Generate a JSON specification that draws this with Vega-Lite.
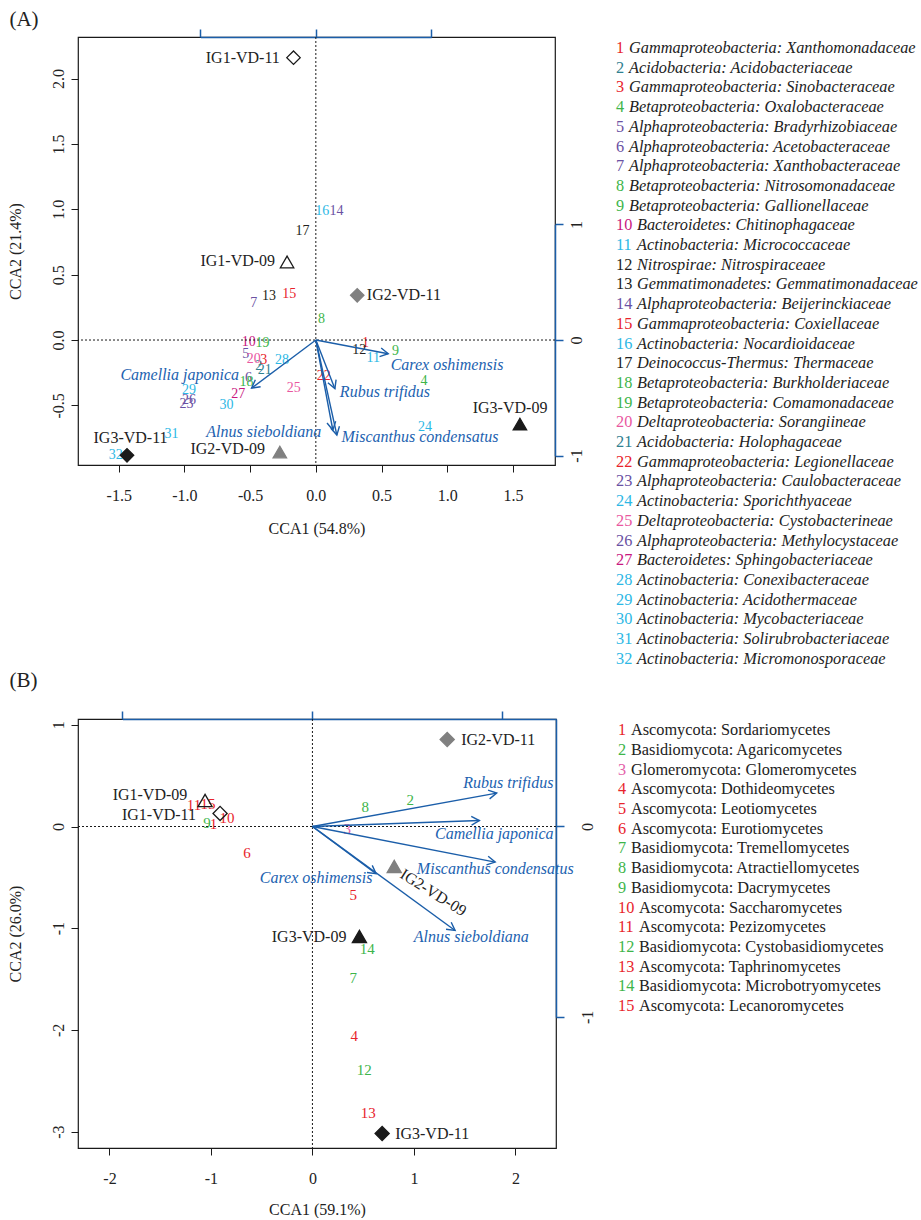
{
  "$schema": "https://vega.github.io/schema/vega-lite/v6.json",
  "background": "white",
  "padding": {"left": 6, "top": 8, "right": 0, "bottom": 0},
  "config": {
    "font": "Liberation Serif",
    "view": {"stroke": "#1a1a1a", "strokeWidth": 1.2},
    "axis": {"grid": false, "domain": false, "tickColor": "#1a1a1a", "tickSize": 7, "tickWidth": 1, "labelFontSize": 16, "titleFontSize": 16, "labelColor": "#222222", "titleColor": "#222222", "titleFontWeight": "normal", "labelFlush": false, "labelOverlap": false, "labelBound": false, "labelFont": "Liberation Serif", "titleFont": "Liberation Serif"},
    "title": {"font": "Liberation Serif", "fontSize": 21, "fontWeight": "normal", "anchor": "start", "color": "#222222"},
    "text": {"font": "Liberation Serif"}
  },
  "datasets": {
    "bacteria": [
      {"n":1,"cls":"Gammaproteobacteria","taxon":"Gammaproteobacteria: Xanthomonadaceae","x":0.378,"y":-0.02},
      {"n":2,"cls":"Acidobacteria","taxon":"Acidobacteria: Acidobacteriaceae","x":-0.434,"y":-0.199},
      {"n":3,"cls":"Gammaproteobacteria","taxon":"Gammaproteobacteria: Sinobacteraceae","x":-0.396,"y":-0.153},
      {"n":4,"cls":"Betaproteobacteria","taxon":"Betaproteobacteria: Oxalobacteraceae","x":0.823,"y":-0.316},
      {"n":5,"cls":"Alphaproteobacteria","taxon":"Alphaproteobacteria: Bradyrhizobiaceae","x":-0.533,"y":-0.107},
      {"n":6,"cls":"Alphaproteobacteria","taxon":"Alphaproteobacteria: Acetobacteraceae","x":-0.512,"y":-0.29},
      {"n":7,"cls":"Alphaproteobacteria","taxon":"Alphaproteobacteria: Xanthobacteraceae","x":-0.472,"y":0.283},
      {"n":8,"cls":"Betaproteobacteria","taxon":"Betaproteobacteria: Nitrosomonadaceae","x":0.043,"y":0.163},
      {"n":9,"cls":"Betaproteobacteria","taxon":"Betaproteobacteria: Gallionellaceae","x":0.607,"y":-0.087},
      {"n":10,"cls":"Bacteroidetes","taxon":"Bacteroidetes: Chitinophagaceae","x":-0.51,"y":-0.018},
      {"n":11,"cls":"Actinobacteria","taxon":"Actinobacteria: Micrococcaceae","x":0.437,"y":-0.138},
      {"n":12,"cls":"Nitrospirae","taxon":"Nitrospirae: Nitrospiraceaee","x":0.33,"y":-0.074},
      {"n":13,"cls":"Gemmatimonadetes","taxon":"Gemmatimonadetes: Gemmatimonadaceae","x":-0.356,"y":0.334},
      {"n":14,"cls":"Alphaproteobacteria","taxon":"Alphaproteobacteria: Beijerinckiaceae","x":0.158,"y":0.985},
      {"n":15,"cls":"Gammaproteobacteria","taxon":"Gammaproteobacteria: Coxiellaceae","x":-0.203,"y":0.352},
      {"n":16,"cls":"Actinobacteria","taxon":"Actinobacteria: Nocardioidaceae","x":0.048,"y":0.985},
      {"n":17,"cls":"Deinococcus-Thermus","taxon":"Deinococcus-Thermus: Thermaceae","x":-0.101,"y":0.832},
      {"n":18,"cls":"Betaproteobacteria","taxon":"Betaproteobacteria: Burkholderiaceae","x":-0.528,"y":-0.324},
      {"n":19,"cls":"Betaproteobacteria","taxon":"Betaproteobacteria: Comamonadaceae","x":-0.406,"y":-0.023},
      {"n":20,"cls":"Deltaproteobacteria","taxon":"Deltaproteobacteria: Sorangiineae","x":-0.472,"y":-0.145},
      {"n":21,"cls":"Acidobacteria","taxon":"Acidobacteria: Holophagaceae","x":-0.388,"y":-0.23},
      {"n":22,"cls":"Gammaproteobacteria","taxon":"Gammaproteobacteria: Legionellaceae","x":0.061,"y":-0.278},
      {"n":23,"cls":"Alphaproteobacteria","taxon":"Alphaproteobacteria: Caulobacteraceae","x":-0.985,"y":-0.49},
      {"n":24,"cls":"Actinobacteria","taxon":"Actinobacteria: Sporichthyaceae","x":0.83,"y":-0.668},
      {"n":25,"cls":"Deltaproteobacteria","taxon":"Deltaproteobacteria: Cystobacterineae","x":-0.168,"y":-0.367},
      {"n":26,"cls":"Alphaproteobacteria","taxon":"Alphaproteobacteria: Methylocystaceae","x":-0.965,"y":-0.457},
      {"n":27,"cls":"Bacteroidetes","taxon":"Bacteroidetes: Sphingobacteriaceae","x":-0.59,"y":-0.413},
      {"n":28,"cls":"Actinobacteria","taxon":"Actinobacteria: Conexibacteraceae","x":-0.257,"y":-0.151},
      {"n":29,"cls":"Actinobacteria","taxon":"Actinobacteria: Acidothermaceae","x":-0.965,"y":-0.38},
      {"n":30,"cls":"Actinobacteria","taxon":"Actinobacteria: Mycobacteriaceae","x":-0.68,"y":-0.495},
      {"n":31,"cls":"Actinobacteria","taxon":"Actinobacteria: Solirubrobacteriaceae","x":-1.099,"y":-0.719},
      {"n":32,"cls":"Actinobacteria","taxon":"Actinobacteria: Micromonosporaceae","x":-1.523,"y":-0.882}
    ],
    "fungi": [
      {"n":1,"cls":"Ascomycota","taxon":"Ascomycota: Sordariomycetes","x":-0.974,"y":0.02},
      {"n":2,"cls":"Basidiomycota","taxon":"Basidiomycota: Agaricomycetes","x":0.964,"y":0.265},
      {"n":3,"cls":"Glomeromycota","taxon":"Glomeromycota: Glomeromycetes","x":0.342,"y":-0.02},
      {"n":4,"cls":"Ascomycota","taxon":"Ascomycota: Dothideomycetes","x":0.411,"y":-2.055},
      {"n":5,"cls":"Ascomycota","taxon":"Ascomycota: Leotiomycetes","x":0.401,"y":-0.669},
      {"n":6,"cls":"Ascomycota","taxon":"Ascomycota: Eurotiomycetes","x":-0.644,"y":-0.256},
      {"n":7,"cls":"Basidiomycota","taxon":"Basidiomycota: Tremellomycetes","x":0.401,"y":-1.485},
      {"n":8,"cls":"Basidiomycota","taxon":"Basidiomycota: Atractiellomycetes","x":0.52,"y":0.187},
      {"n":9,"cls":"Basidiomycota","taxon":"Basidiomycota: Dacrymycetes","x":-1.039,"y":0.039},
      {"n":10,"cls":"Ascomycota","taxon":"Ascomycota: Saccharomycetes","x":-0.841,"y":0.088},
      {"n":11,"cls":"Ascomycota","taxon":"Ascomycota: Pezizomycetes","x":-1.167,"y":0.216},
      {"n":12,"cls":"Basidiomycota","taxon":"Basidiomycota: Cystobasidiomycetes","x":0.51,"y":-2.399},
      {"n":13,"cls":"Ascomycota","taxon":"Ascomycota: Taphrinomycetes","x":0.549,"y":-2.812},
      {"n":14,"cls":"Basidiomycota","taxon":"Basidiomycota: Microbotryomycetes","x":0.539,"y":-1.2},
      {"n":15,"cls":"Ascomycota","taxon":"Ascomycota: Lecanoromycetes","x":-1.029,"y":0.226}
    ],
    "sitesA": [
      {"site":"IG1-VD-11","ig":"IG1","yr":"11","x":-0.17,"y":2.16,"lx":-0.556,"ly":2.158},
      {"site":"IG1-VD-09","ig":"IG1","yr":"09","x":-0.219,"y":0.597,"lx":-0.594,"ly":0.604},
      {"site":"IG2-VD-11","ig":"IG2","yr":"11","x":0.315,"y":0.342,"lx":0.67,"ly":0.344},
      {"site":"IG2-VD-09","ig":"IG2","yr":"09","x":-0.274,"y":-0.857,"lx":-0.67,"ly":-0.834},
      {"site":"IG3-VD-09","ig":"IG3","yr":"09","x":1.553,"y":-0.643,"lx":1.478,"ly":-0.52},
      {"site":"IG3-VD-11","ig":"IG3","yr":"11","x":-1.437,"y":-0.882,"lx":-1.41,"ly":-0.75}
    ],
    "sitesB": [
      {"site":"IG2-VD-11","ig":"IG2","yr":"11","x":1.328,"y":0.855,"lx":1.831,"ly":0.855},
      {"site":"IG1-VD-09","ig":"IG1","yr":"09","x":-1.058,"y":0.256,"lx":-1.601,"ly":0.305},
      {"site":"IG1-VD-11","ig":"IG1","yr":"11","x":-0.91,"y":0.128,"lx":-1.512,"ly":0.118},
      {"site":"IG2-VD-09","ig":"IG2","yr":"09","x":0.806,"y":-0.393,"lx":1.19,"ly":-0.65},
      {"site":"IG3-VD-09","ig":"IG3","yr":"09","x":0.463,"y":-1.081,"lx":-0.033,"ly":-1.082},
      {"site":"IG3-VD-11","ig":"IG3","yr":"11","x":0.687,"y":-3.019,"lx":1.18,"ly":-3.028}
    ],
    "arrowsA": [
      {"plant":"Carex oshimensis","x":0.627,"y":-0.119,"lx":0.998,"ly":-0.191},
      {"plant":"Camellia japonica","x":-0.557,"y":-0.416,"lx":-1.036,"ly":-0.268},
      {"plant":"Rubus trifidus","x":0.165,"y":-0.421,"lx":0.526,"ly":-0.398},
      {"plant":"Alnus sieboldiana","x":0.147,"y":-0.779,"lx":-0.396,"ly":-0.704},
      {"plant":"Miscanthus condensatus","x":0.182,"y":-0.823,"lx":0.792,"ly":-0.742}
    ],
    "arrowsB": [
      {"plant":"Rubus trifidus","x":0.97,"y":0.175,"lx":1.93,"ly":0.423},
      {"plant":"Camellia japonica","x":0.879,"y":0.031,"lx":1.792,"ly":-0.069},
      {"plant":"Miscanthus condensatus","x":0.962,"y":-0.187,"lx":1.802,"ly":-0.413},
      {"plant":"Carex oshimensis","x":0.335,"y":-0.248,"lx":0.036,"ly":-0.511},
      {"plant":"Alnus sieboldiana","x":0.751,"y":-0.546,"lx":1.565,"ly":-1.091}
    ]
  },
  "spacing": 2,
  "vconcat": [
    {
      "title": {"text": "(A)", "offset": 0, "dx": 3, "dy": 2},
      "spacing": 31,
      "hconcat": [
        {
          "width": 477,
          "height": 428,
          "layer": [
            {
              "layer": [
                {
                  "data": {"name": "bacteria"},
                  "mark": {"type": "text", "fontSize": 14, "align": "center", "baseline": "middle"},
                  "encoding": {
                    "x": {"field": "x", "type": "quantitative", "scale": {"domain": [-1.81, 1.82], "nice": false, "zero": false},
                      "axis": {"orient": "bottom", "values": [-1.5, -1, -0.5, 0, 0.5, 1, 1.5], "labelExpr": "(datum.value < 0 ? '-' : '') + format(abs(datum.value), '.1f')", "title": "CCA1 (54.8%)", "labelPadding": 15, "titlePadding": 17}},
                    "y": {"field": "y", "type": "quantitative", "scale": {"domain": [-0.956, 2.318], "nice": false, "zero": false},
                      "axis": {"orient": "left", "values": [-0.5, 0, 0.5, 1, 1.5, 2], "labelExpr": "(datum.value < 0 ? '-' : '') + format(abs(datum.value), '.1f')", "labelAngle": -90, "labelAlign": "center", "labelBaseline": "bottom", "labelPadding": 5, "title": "CCA2 (21.4%)", "titlePadding": 27}},
                    "text": {"field": "n", "type": "nominal"},
                    "color": {"field": "cls", "type": "nominal", "legend": null,
                      "scale": {"domain": ["Gammaproteobacteria","Acidobacteria","Betaproteobacteria","Alphaproteobacteria","Bacteroidetes","Actinobacteria","Nitrospirae","Gemmatimonadetes","Deinococcus-Thermus","Deltaproteobacteria","Ascomycota","Basidiomycota","Glomeromycota"],
                                "range": ["#E8232B","#2F8190","#3DB54A","#6A51A3","#C8187F","#2DB8E5","#231F20","#231F20","#231F20","#E9579F","#E8232B","#3DB54A","#E463AA"]}}
                  }
                },
                {
                  "data": {"values": [{}]},
                  "mark": {"type": "rule", "strokeDash": [2, 2], "color": "#1a1a1a", "strokeWidth": 1},
                  "encoding": {"x": {"datum": 0, "type": "quantitative"}}
                },
                {
                  "data": {"values": [{}]},
                  "mark": {"type": "rule", "strokeDash": [2, 2], "color": "#1a1a1a", "strokeWidth": 1},
                  "encoding": {"y": {"datum": 0, "type": "quantitative"}}
                },
                {
                  "data": {"name": "sitesA"},
                  "mark": {"type": "point", "filled": true, "opacity": 1, "size": 180, "strokeWidth": 1.3},
                  "encoding": {
                    "x": {"field": "x", "type": "quantitative"},
                    "y": {"field": "y", "type": "quantitative"},
                    "shape": {"field": "yr", "type": "nominal", "legend": null, "scale": {"domain": ["09", "11"], "range": ["triangle-up", "diamond"]}},
                    "fill": {"field": "ig", "type": "nominal", "legend": null, "scale": {"domain": ["IG1", "IG2", "IG3"], "range": ["rgba(0,0,0,0)", "#808080", "#1a1a1a"]}},
                    "stroke": {"field": "ig", "type": "nominal", "legend": null, "scale": {"domain": ["IG1", "IG2", "IG3"], "range": ["#1a1a1a", "#808080", "#1a1a1a"]}}
                  }
                },
                {
                  "data": {"name": "sitesA"},
                  "mark": {"type": "text", "fontSize": 16, "align": "center", "baseline": "middle", "color": "#222222"},
                  "encoding": {
                    "x": {"field": "lx", "type": "quantitative"},
                    "y": {"field": "ly", "type": "quantitative"},
                    "text": {"field": "site", "type": "nominal"}
                  }
                },
                {
                  "data": {"name": "arrowsA"},
                  "mark": {"type": "text", "fontSize": 16, "fontStyle": "italic", "align": "center", "baseline": "middle", "color": "#2262B0"},
                  "encoding": {
                    "x": {"field": "lx", "type": "quantitative"},
                    "y": {"field": "ly", "type": "quantitative"},
                    "text": {"field": "plant", "type": "nominal"}
                  }
                }
              ]
            },
            {
              "data": {"name": "arrowsA"},
              "layer": [
                {
                  "mark": {"type": "rule", "color": "#1B5EA9", "strokeWidth": 1.4},
                  "encoding": {
                    "x": {"field": "x", "type": "quantitative", "scale": {"domain": [-2.061, 2.072], "nice": false, "zero": false},
                      "axis": {"orient": "top", "values": [-1, 0, 1], "labels": false, "title": null, "domain": true, "domainColor": "#1B5EA9", "domainWidth": 1.5, "domainDash": [0, 122.45, 230.8, 1000], "tickColor": "#1B5EA9", "tickWidth": 1.5, "tickSize": 8}},
                    "x2": {"datum": 0},
                    "y": {"field": "y", "type": "quantitative", "scale": {"domain": [-1.082, 2.623], "nice": false, "zero": false},
                      "axis": {"orient": "right", "values": [-1, 0, 1], "labelExpr": "datum.value < 0 ? '-' + abs(datum.value) : '' + datum.value", "labelAngle": -90, "labelAlign": "center", "labelBaseline": "top", "labelPadding": 5, "title": null, "domain": true, "domainColor": "#1B5EA9", "domainWidth": 1.5, "domainDash": [0, 9.5, 231, 1000], "tickColor": "#1B5EA9", "tickWidth": 1.5, "tickSize": 8}},
                    "y2": {"datum": 0}
                  }
                },
                {
                  "transform": [{"calculate": "-atan2(datum.y, datum.x) * 180 / PI", "as": "ang"}],
                  "mark": {"type": "point", "shape": "M-1,-0.55L0,0L-1,0.55", "filled": false, "size": 256, "stroke": "#1B5EA9", "strokeWidth": 1.4, "opacity": 1},
                  "encoding": {
                    "x": {"field": "x", "type": "quantitative"},
                    "y": {"field": "y", "type": "quantitative"},
                    "angle": {"field": "ang", "type": "quantitative", "scale": null}
                  }
                }
              ]
            }
          ],
          "resolve": {"scale": {"x": "independent", "y": "independent"}, "axis": {"x": "independent", "y": "independent"}}
        },
        {
          "width": 300,
          "height": 621.7,
          "view": {"stroke": null},
          "data": {"name": "bacteria"},
          "encoding": {"y": {"field": "n", "type": "quantitative", "scale": {"domain": [0.4416, 32], "reverse": true, "nice": false, "zero": false}, "axis": null}},
          "layer": [
            {
              "mark": {"type": "text", "align": "left", "baseline": "middle", "fontSize": 16.3},
              "encoding": {
                "x": {"value": 0},
                "text": {"field": "n", "type": "nominal"},
                "color": {"field": "cls", "type": "nominal", "legend": null,
                  "scale": {"domain": ["Gammaproteobacteria","Acidobacteria","Betaproteobacteria","Alphaproteobacteria","Bacteroidetes","Actinobacteria","Nitrospirae","Gemmatimonadetes","Deinococcus-Thermus","Deltaproteobacteria","Ascomycota","Basidiomycota","Glomeromycota"],
                            "range": ["#E8232B","#2F8190","#3DB54A","#6A51A3","#C8187F","#2DB8E5","#231F20","#231F20","#231F20","#E9579F","#E8232B","#3DB54A","#E463AA"]}}
              }
            },
            {
              "transform": [{"filter": "datum.n < 10"}],
              "mark": {"type": "text", "align": "left", "baseline": "middle", "fontSize": 16.3, "fontStyle": "italic", "dx": 13, "color": "#222222"},
              "encoding": {"x": {"value": 0}, "text": {"field": "taxon", "type": "nominal"}}
            },
            {
              "transform": [{"filter": "datum.n >= 10"}],
              "mark": {"type": "text", "align": "left", "baseline": "middle", "fontSize": 16.3, "fontStyle": "italic", "dx": 21, "color": "#222222"},
              "encoding": {"x": {"value": 0}, "text": {"field": "taxon", "type": "nominal"}}
            }
          ]
        }
      ]
    },
    {
      "title": {"text": "(B)", "offset": 19, "dx": 3},
      "spacing": 22,
      "hconcat": [
        {
          "width": 478,
          "height": 429,
          "layer": [
            {
              "layer": [
                {
                  "data": {"name": "fungi"},
                  "mark": {"type": "text", "fontSize": 15, "align": "center", "baseline": "middle"},
                  "encoding": {
                    "x": {"field": "x", "type": "quantitative", "scale": {"domain": [-2.31, 2.4], "nice": false, "zero": false},
                      "axis": {"orient": "bottom", "values": [-2, -1, 0, 1, 2], "labelExpr": "(datum.value < 0 ? '-' : '') + abs(datum.value)", "title": "CCA1 (59.1%)", "labelPadding": 15, "titlePadding": 15}},
                    "y": {"field": "y", "type": "quantitative", "scale": {"domain": [-3.161, 1.057], "nice": false, "zero": false},
                      "axis": {"orient": "left", "values": [-3, -2, -1, 0, 1], "labelExpr": "(datum.value < 0 ? '-' : '') + abs(datum.value)", "labelAngle": -90, "labelAlign": "center", "labelBaseline": "bottom", "labelPadding": 5, "title": "CCA2 (26.0%)", "titlePadding": 27}},
                    "text": {"field": "n", "type": "nominal"},
                    "color": {"field": "cls", "type": "nominal", "legend": null,
                      "scale": {"domain": ["Gammaproteobacteria","Acidobacteria","Betaproteobacteria","Alphaproteobacteria","Bacteroidetes","Actinobacteria","Nitrospirae","Gemmatimonadetes","Deinococcus-Thermus","Deltaproteobacteria","Ascomycota","Basidiomycota","Glomeromycota"],
                                "range": ["#E8232B","#2F8190","#3DB54A","#6A51A3","#C8187F","#2DB8E5","#231F20","#231F20","#231F20","#E9579F","#E8232B","#3DB54A","#E463AA"]}}
                  }
                },
                {
                  "data": {"values": [{}]},
                  "mark": {"type": "rule", "strokeDash": [2, 2], "color": "#1a1a1a", "strokeWidth": 1},
                  "encoding": {"x": {"datum": 0, "type": "quantitative"}}
                },
                {
                  "data": {"values": [{}]},
                  "mark": {"type": "rule", "strokeDash": [2, 2], "color": "#1a1a1a", "strokeWidth": 1},
                  "encoding": {"y": {"datum": 0, "type": "quantitative"}}
                },
                {
                  "data": {"name": "sitesB"},
                  "mark": {"type": "point", "filled": true, "opacity": 1, "size": 200, "strokeWidth": 1.3},
                  "encoding": {
                    "x": {"field": "x", "type": "quantitative"},
                    "y": {"field": "y", "type": "quantitative"},
                    "shape": {"field": "yr", "type": "nominal", "legend": null, "scale": {"domain": ["09", "11"], "range": ["triangle-up", "diamond"]}},
                    "fill": {"field": "ig", "type": "nominal", "legend": null, "scale": {"domain": ["IG1", "IG2", "IG3"], "range": ["rgba(0,0,0,0)", "#808080", "#1a1a1a"]}},
                    "stroke": {"field": "ig", "type": "nominal", "legend": null, "scale": {"domain": ["IG1", "IG2", "IG3"], "range": ["#1a1a1a", "#808080", "#1a1a1a"]}}
                  }
                },
                {
                  "data": {"name": "sitesB"},
                  "transform": [{"filter": "datum.site != 'IG2-VD-09'"}],
                  "mark": {"type": "text", "fontSize": 16, "align": "center", "baseline": "middle", "color": "#222222"},
                  "encoding": {
                    "x": {"field": "lx", "type": "quantitative"},
                    "y": {"field": "ly", "type": "quantitative"},
                    "text": {"field": "site", "type": "nominal"}
                  }
                },
                {
                  "data": {"name": "sitesB"},
                  "transform": [{"filter": "datum.site == 'IG2-VD-09'"}],
                  "mark": {"type": "text", "fontSize": 16, "align": "center", "baseline": "middle", "color": "#222222", "angle": 32},
                  "encoding": {
                    "x": {"field": "lx", "type": "quantitative"},
                    "y": {"field": "ly", "type": "quantitative"},
                    "text": {"field": "site", "type": "nominal"}
                  }
                },
                {
                  "data": {"name": "arrowsB"},
                  "mark": {"type": "text", "fontSize": 16, "fontStyle": "italic", "align": "center", "baseline": "middle", "color": "#2262B0"},
                  "encoding": {
                    "x": {"field": "lx", "type": "quantitative"},
                    "y": {"field": "ly", "type": "quantitative"},
                    "text": {"field": "plant", "type": "nominal"}
                  }
                }
              ]
            },
            {
              "data": {"name": "arrowsB"},
              "layer": [
                {
                  "mark": {"type": "rule", "color": "#1B5EA9", "strokeWidth": 1.4},
                  "encoding": {
                    "x": {"field": "x", "type": "quantitative", "scale": {"domain": [-1.2337, 1.2821], "nice": false, "zero": false},
                      "axis": {"orient": "top", "values": [-1, 0, 1], "labels": false, "title": null, "domain": true, "domainColor": "#1B5EA9", "domainWidth": 1.5, "domainDash": [0, 44.4, 1000], "tickColor": "#1B5EA9", "tickWidth": 1.5, "tickSize": 8}},
                    "x2": {"datum": 0},
                    "y": {"field": "y", "type": "quantitative", "scale": {"domain": [-1.688, 0.564], "nice": false, "zero": false},
                      "axis": {"orient": "right", "values": [-1, 0], "labelExpr": "datum.value < 0 ? '-' + abs(datum.value) : '' + datum.value", "labelAngle": -90, "labelAlign": "center", "labelBaseline": "top", "labelPadding": 15, "title": null, "domain": true, "domainColor": "#1B5EA9", "domainWidth": 1.5, "domainDash": [0, 131, 1000], "tickColor": "#1B5EA9", "tickWidth": 1.5, "tickSize": 8}},
                    "y2": {"datum": 0}
                  }
                },
                {
                  "transform": [{"calculate": "-atan2(datum.y, datum.x) * 180 / PI", "as": "ang"}],
                  "mark": {"type": "point", "shape": "M-1,-0.55L0,0L-1,0.55", "filled": false, "size": 256, "stroke": "#1B5EA9", "strokeWidth": 1.4, "opacity": 1},
                  "encoding": {
                    "x": {"field": "x", "type": "quantitative"},
                    "y": {"field": "y", "type": "quantitative"},
                    "angle": {"field": "ang", "type": "quantitative", "scale": null}
                  }
                }
              ]
            }
          ],
          "resolve": {"scale": {"x": "independent", "y": "independent"}, "axis": {"x": "independent", "y": "independent"}}
        },
        {
          "width": 250,
          "height": 287.1,
          "view": {"stroke": null},
          "data": {"name": "fungi"},
          "encoding": {"y": {"field": "n", "type": "quantitative", "scale": {"domain": [0.4264, 15], "reverse": true, "nice": false, "zero": false}, "axis": null}},
          "layer": [
            {
              "mark": {"type": "text", "align": "left", "baseline": "middle", "fontSize": 16.3},
              "encoding": {
                "x": {"value": 0},
                "text": {"field": "n", "type": "nominal"},
                "color": {"field": "cls", "type": "nominal", "legend": null,
                  "scale": {"domain": ["Gammaproteobacteria","Acidobacteria","Betaproteobacteria","Alphaproteobacteria","Bacteroidetes","Actinobacteria","Nitrospirae","Gemmatimonadetes","Deinococcus-Thermus","Deltaproteobacteria","Ascomycota","Basidiomycota","Glomeromycota"],
                            "range": ["#E8232B","#2F8190","#3DB54A","#6A51A3","#C8187F","#2DB8E5","#231F20","#231F20","#231F20","#E9579F","#E8232B","#3DB54A","#E463AA"]}}
              }
            },
            {
              "transform": [{"filter": "datum.n < 10"}],
              "mark": {"type": "text", "align": "left", "baseline": "middle", "fontSize": 16.3, "dx": 13, "color": "#222222"},
              "encoding": {"x": {"value": 0}, "text": {"field": "taxon", "type": "nominal"}}
            },
            {
              "transform": [{"filter": "datum.n >= 10"}],
              "mark": {"type": "text", "align": "left", "baseline": "middle", "fontSize": 16.3, "dx": 21, "color": "#222222"},
              "encoding": {"x": {"value": 0}, "text": {"field": "taxon", "type": "nominal"}}
            }
          ]
        }
      ]
    }
  ]
}
